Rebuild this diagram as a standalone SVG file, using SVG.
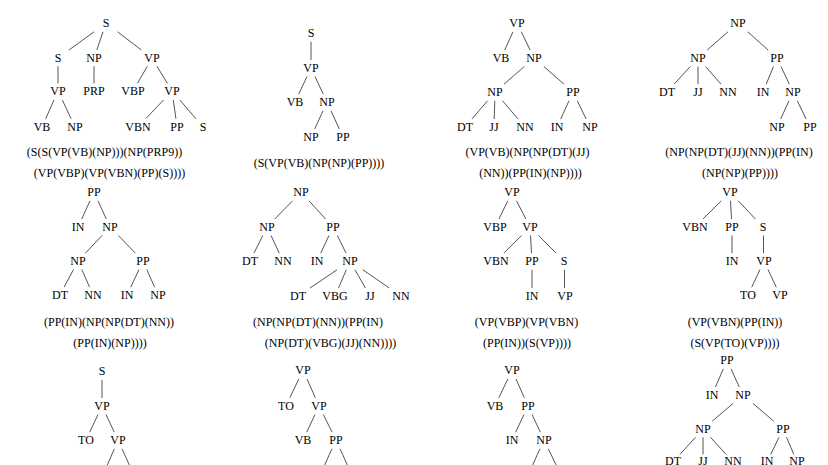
<svg xmlns="http://www.w3.org/2000/svg" width="828" height="465" viewBox="0 0 828 465">
<style>
text{font-family:'Liberation Serif','Times New Roman',serif;font-size:12px;fill:#000;text-anchor:middle}
line{stroke:#555;stroke-width:1;fill:none}
</style>
<rect width="828" height="465" fill="#fff"/>
<g id="connectors">
<line x1="94" y1="31.8" x2="69" y2="50"/>
<line x1="103" y1="31.8" x2="96.8" y2="50"/>
<line x1="117.5" y1="31.8" x2="141.4" y2="50"/>
<line x1="58" y1="66.3" x2="58" y2="83.4"/>
<line x1="94" y1="66.3" x2="94" y2="83.4"/>
<line x1="147.3" y1="66.3" x2="137.4" y2="83.4"/>
<line x1="157" y1="66.3" x2="167.4" y2="83.4"/>
<line x1="54" y1="100" x2="45.7" y2="118.7"/>
<line x1="62.3" y1="100" x2="71.1" y2="118.7"/>
<line x1="163.5" y1="100" x2="145.8" y2="118.7"/>
<line x1="173.3" y1="100" x2="175.9" y2="118.7"/>
<line x1="179.8" y1="100" x2="195.9" y2="118.7"/>
<line x1="311" y1="41.8" x2="311" y2="60"/>
<line x1="307" y1="76.5" x2="298.7" y2="94.2"/>
<line x1="315" y1="76.5" x2="323.3" y2="94.2"/>
<line x1="323" y1="110.8" x2="314.7" y2="129"/>
<line x1="331" y1="110.8" x2="339.3" y2="129"/>
<line x1="513" y1="31.8" x2="504.7" y2="50"/>
<line x1="521.3" y1="31.8" x2="530.1" y2="50"/>
<line x1="524.3" y1="66.5" x2="504" y2="84.2"/>
<line x1="543.8" y1="66.5" x2="564" y2="84.2"/>
<line x1="487.5" y1="100.8" x2="471.9" y2="119"/>
<line x1="494.8" y1="100.8" x2="494.2" y2="119"/>
<line x1="502.5" y1="100.8" x2="518.1" y2="119"/>
<line x1="569" y1="100.8" x2="560.7" y2="119"/>
<line x1="577.3" y1="100.8" x2="586.1" y2="119"/>
<line x1="728" y1="31.8" x2="707.2" y2="50"/>
<line x1="747.8" y1="31.8" x2="768" y2="50"/>
<line x1="690.3" y1="66.5" x2="674.1" y2="84.2"/>
<line x1="698" y1="66.5" x2="698" y2="84.2"/>
<line x1="705.5" y1="66.5" x2="721.1" y2="84.2"/>
<line x1="773.5" y1="66.5" x2="766.2" y2="84.2"/>
<line x1="781" y1="66.5" x2="789.3" y2="84.2"/>
<line x1="789" y1="100.8" x2="780.7" y2="119"/>
<line x1="797.3" y1="100.8" x2="806.1" y2="119"/>
<line x1="90" y1="200.8" x2="81.7" y2="219"/>
<line x1="98" y1="200.8" x2="106.3" y2="219"/>
<line x1="102" y1="235.5" x2="85.4" y2="253.2"/>
<line x1="118.3" y1="235.5" x2="135.4" y2="253.2"/>
<line x1="73.5" y1="269.5" x2="64.1" y2="287.2"/>
<line x1="81.8" y1="269.5" x2="89.6" y2="287.2"/>
<line x1="139" y1="269.5" x2="130.7" y2="287.2"/>
<line x1="146.8" y1="269.5" x2="154.6" y2="287.2"/>
<line x1="292.5" y1="200.8" x2="274.8" y2="219"/>
<line x1="309" y1="200.8" x2="325.6" y2="219"/>
<line x1="262.8" y1="235.5" x2="253.9" y2="253.2"/>
<line x1="271" y1="235.5" x2="279.3" y2="253.2"/>
<line x1="329" y1="235.5" x2="320.7" y2="253.2"/>
<line x1="337.3" y1="235.5" x2="346.1" y2="253.2"/>
<line x1="337" y1="269.8" x2="310" y2="288"/>
<line x1="346.3" y1="269.8" x2="338.5" y2="288"/>
<line x1="355" y1="269.8" x2="365.4" y2="288"/>
<line x1="362.8" y1="269.8" x2="389.3" y2="288"/>
<line x1="507.8" y1="200.8" x2="498.9" y2="219"/>
<line x1="516.5" y1="200.8" x2="525.9" y2="219"/>
<line x1="521.5" y1="235.5" x2="503.8" y2="253.2"/>
<line x1="530.5" y1="235.5" x2="531.5" y2="253.2"/>
<line x1="538.5" y1="235.5" x2="556.2" y2="253.2"/>
<line x1="532" y1="269.8" x2="532" y2="288"/>
<line x1="564.5" y1="269.8" x2="564.5" y2="288"/>
<line x1="721.3" y1="200.8" x2="703" y2="219"/>
<line x1="730.5" y1="200.8" x2="731.5" y2="219"/>
<line x1="738.3" y1="200.8" x2="755.4" y2="219"/>
<line x1="732" y1="235.5" x2="732" y2="253.2"/>
<line x1="763.5" y1="235.5" x2="763.5" y2="253.2"/>
<line x1="760" y1="269.5" x2="751.7" y2="287.2"/>
<line x1="768" y1="269.5" x2="776.3" y2="287.2"/>
<line x1="102" y1="379.8" x2="102" y2="398"/>
<line x1="98" y1="414.5" x2="89.7" y2="432.2"/>
<line x1="106" y1="414.5" x2="114.3" y2="432.2"/>
<line x1="114.3" y1="448.8" x2="106.5" y2="467"/>
<line x1="122" y1="448.8" x2="130.3" y2="467"/>
<line x1="298.8" y1="379" x2="289.9" y2="397.7"/>
<line x1="307" y1="379" x2="315.3" y2="397.7"/>
<line x1="315" y1="414.5" x2="306.7" y2="432.2"/>
<line x1="323.3" y1="414.5" x2="332.1" y2="432.2"/>
<line x1="332" y1="448.8" x2="323.7" y2="467"/>
<line x1="340" y1="448.8" x2="348.3" y2="467"/>
<line x1="507.8" y1="379" x2="498.9" y2="397.7"/>
<line x1="516" y1="379" x2="524.3" y2="397.7"/>
<line x1="524" y1="414.5" x2="515.7" y2="432.2"/>
<line x1="532" y1="414.5" x2="540.3" y2="432.2"/>
<line x1="540" y1="448.8" x2="531.7" y2="467"/>
<line x1="548.3" y1="448.8" x2="557.1" y2="467"/>
<line x1="723.3" y1="368.8" x2="715.5" y2="387"/>
<line x1="731" y1="368.8" x2="739.3" y2="387"/>
<line x1="733" y1="403.5" x2="712.2" y2="421.2"/>
<line x1="753" y1="403.5" x2="773.8" y2="421.2"/>
<line x1="695.5" y1="437.3" x2="679.9" y2="454.4"/>
<line x1="703" y1="437.3" x2="703" y2="454.4"/>
<line x1="710.5" y1="437.3" x2="726.1" y2="454.4"/>
<line x1="779" y1="437.3" x2="770.7" y2="454.4"/>
<line x1="786.5" y1="437.3" x2="793.8" y2="454.4"/>
</g>
<g id="tree1">
<g id="t1-n1"><text x="106" y="27">S</text></g>
<g id="t1-n2"><text x="58" y="62">S</text></g>
<g id="t1-n3"><text x="94" y="62">NP</text></g>
<g id="t1-n4"><text x="152" y="62">VP</text></g>
<g id="t1-n5"><text x="58" y="95">VP</text></g>
<g id="t1-n6"><text x="94" y="95">PRP</text></g>
<g id="t1-n7"><text x="133" y="95">VBP</text></g>
<g id="t1-n8"><text x="172" y="95">VP</text></g>
<g id="t1-n9"><text x="42" y="131">VB</text></g>
<g id="t1-n10"><text x="75" y="131">NP</text></g>
<g id="t1-n11"><text x="138" y="131">VBN</text></g>
<g id="t1-n12"><text x="177" y="131">PP</text></g>
<g id="t1-n13"><text x="203" y="131">S</text></g>
<text x="104.5" y="156">(S(S(VP(VB)(NP)))(NP(PRP9))</text>
<text x="109.5" y="177">(VP(VBP)(VP(VBN)(PP)(S))))</text>
</g>
<g id="tree2">
<g id="t2-n1"><text x="311" y="37">S</text></g>
<g id="t2-n2"><text x="311" y="72">VP</text></g>
<g id="t2-n3"><text x="295" y="106">VB</text></g>
<g id="t2-n4"><text x="327" y="106">NP</text></g>
<g id="t2-n5"><text x="311" y="141">NP</text></g>
<g id="t2-n6"><text x="343" y="141">PP</text></g>
<text x="319" y="167">(S(VP(VB)(NP(NP)(PP))))</text>
</g>
<g id="tree3">
<g id="t3-n1"><text x="517" y="27">VP</text></g>
<g id="t3-n2"><text x="501" y="62">VB</text></g>
<g id="t3-n3"><text x="534" y="62">NP</text></g>
<g id="t3-n4"><text x="495" y="96">NP</text></g>
<g id="t3-n5"><text x="573" y="96">PP</text></g>
<g id="t3-n6"><text x="465" y="131">DT</text></g>
<g id="t3-n7"><text x="494" y="131">JJ</text></g>
<g id="t3-n8"><text x="525" y="131">NN</text></g>
<g id="t3-n9"><text x="557" y="131">IN</text></g>
<g id="t3-n10"><text x="590" y="131">NP</text></g>
<text x="527.5" y="156">(VP(VB)(NP(NP(DT)(JJ)</text>
<text x="530.5" y="177">(NN))(PP(IN)(NP))))</text>
</g>
<g id="tree4">
<g id="t4-n1"><text x="738" y="27">NP</text></g>
<g id="t4-n2"><text x="698" y="62">NP</text></g>
<g id="t4-n3"><text x="777" y="62">PP</text></g>
<g id="t4-n4"><text x="667" y="96">DT</text></g>
<g id="t4-n5"><text x="698" y="96">JJ</text></g>
<g id="t4-n6"><text x="728" y="96">NN</text></g>
<g id="t4-n7"><text x="763" y="96">IN</text></g>
<g id="t4-n8"><text x="793" y="96">NP</text></g>
<g id="t4-n9"><text x="777" y="131">NP</text></g>
<g id="t4-n10"><text x="810" y="131">PP</text></g>
<text x="739" y="156">(NP(NP(DT)(JJ)(NN))(PP(IN)</text>
<text x="740" y="177">(NP(NP)(PP))))</text>
</g>
<g id="tree5">
<g id="t5-n1"><text x="94" y="196">PP</text></g>
<g id="t5-n2"><text x="78" y="231">IN</text></g>
<g id="t5-n3"><text x="110" y="231">NP</text></g>
<g id="t5-n4"><text x="78" y="265">NP</text></g>
<g id="t5-n5"><text x="143" y="265">PP</text></g>
<g id="t5-n6"><text x="60" y="299">DT</text></g>
<g id="t5-n7"><text x="93" y="299">NN</text></g>
<g id="t5-n8"><text x="127" y="299">IN</text></g>
<g id="t5-n9"><text x="158" y="299">NP</text></g>
<text x="109" y="326">(PP(IN)(NP(NP(DT)(NN))</text>
<text x="110" y="347">(PP(IN)(NP))))</text>
</g>
<g id="tree6">
<g id="t6-n1"><text x="301" y="196">NP</text></g>
<g id="t6-n2"><text x="267" y="231">NP</text></g>
<g id="t6-n3"><text x="333" y="231">PP</text></g>
<g id="t6-n4"><text x="250" y="265">DT</text></g>
<g id="t6-n5"><text x="283" y="265">NN</text></g>
<g id="t6-n6"><text x="317" y="265">IN</text></g>
<g id="t6-n7"><text x="350" y="265">NP</text></g>
<g id="t6-n8"><text x="298" y="300">DT</text></g>
<g id="t6-n9"><text x="335" y="300">VBG</text></g>
<g id="t6-n10"><text x="370" y="300">JJ</text></g>
<g id="t6-n11"><text x="401" y="300">NN</text></g>
<text x="318" y="326">(NP(NP(DT)(NN))(PP(IN)</text>
<text x="330.5" y="347">(NP(DT)(VBG)(JJ)(NN))))</text>
</g>
<g id="tree7">
<g id="t7-n1"><text x="512" y="196">VP</text></g>
<g id="t7-n2"><text x="495" y="231">VBP</text></g>
<g id="t7-n3"><text x="530" y="231">VP</text></g>
<g id="t7-n4"><text x="496" y="265">VBN</text></g>
<g id="t7-n5"><text x="532" y="265">PP</text></g>
<g id="t7-n6"><text x="564" y="265">S</text></g>
<g id="t7-n7"><text x="532" y="300">IN</text></g>
<g id="t7-n8"><text x="565" y="300">VP</text></g>
<text x="526.5" y="326">(VP(VBP)(VP(VBN)</text>
<text x="527" y="347">(PP(IN))(S(VP))))</text>
</g>
<g id="tree8">
<g id="t8-n1"><text x="730" y="196">VP</text></g>
<g id="t8-n2"><text x="695" y="231">VBN</text></g>
<g id="t8-n3"><text x="732" y="231">PP</text></g>
<g id="t8-n4"><text x="763" y="231">S</text></g>
<g id="t8-n5"><text x="732" y="265">IN</text></g>
<g id="t8-n6"><text x="764" y="265">VP</text></g>
<g id="t8-n7"><text x="748" y="299">TO</text></g>
<g id="t8-n8"><text x="780" y="299">VP</text></g>
<text x="735" y="326">(VP(VBN)(PP(IN))</text>
<text x="735" y="347">(S(VP(TO)(VP))))</text>
</g>
<g id="tree9">
<g id="t9-n1"><text x="102" y="375">S</text></g>
<g id="t9-n2"><text x="102" y="410">VP</text></g>
<g id="t9-n3"><text x="86" y="444">TO</text></g>
<g id="t9-n4"><text x="118" y="444">VP</text></g>
</g>
<g id="tree10">
<g id="t10-n1"><text x="303" y="374">VP</text></g>
<g id="t10-n2"><text x="286" y="410">TO</text></g>
<g id="t10-n3"><text x="319" y="410">VP</text></g>
<g id="t10-n4"><text x="303" y="444">VB</text></g>
<g id="t10-n5"><text x="336" y="444">PP</text></g>
</g>
<g id="tree11">
<g id="t11-n1"><text x="512" y="374">VP</text></g>
<g id="t11-n2"><text x="495" y="410">VB</text></g>
<g id="t11-n3"><text x="528" y="410">PP</text></g>
<g id="t11-n4"><text x="512" y="444">IN</text></g>
<g id="t11-n5"><text x="544" y="444">NP</text></g>
</g>
<g id="tree12">
<g id="t12-n1"><text x="727" y="364">PP</text></g>
<g id="t12-n2"><text x="712" y="399">IN</text></g>
<g id="t12-n3"><text x="743" y="399">NP</text></g>
<g id="t12-n4"><text x="703" y="433">NP</text></g>
<g id="t12-n5"><text x="783" y="433">PP</text></g>
<g id="t12-n6"><text x="673" y="465">DT</text></g>
<g id="t12-n7"><text x="703" y="465">JJ</text></g>
<g id="t12-n8"><text x="733" y="465">NN</text></g>
<g id="t12-n9"><text x="767" y="465">IN</text></g>
<g id="t12-n10"><text x="797" y="465">NP</text></g>
</g>
</svg>
